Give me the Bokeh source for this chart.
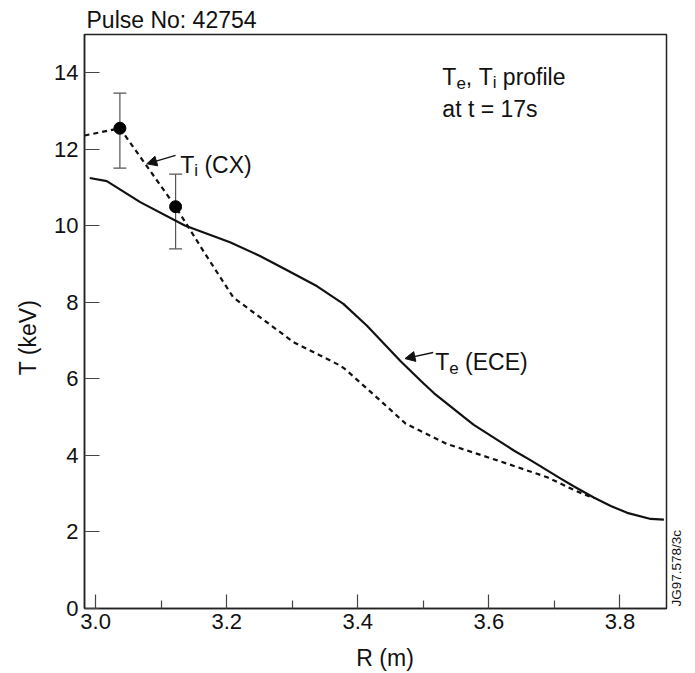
import math
from bokeh.plotting import figure
from bokeh.models import (Range1d, FixedTicker, Label, Arrow, NormalHead, Whisker,
                          TeeHead, ColumnDataSource, CustomJSTickFormatter, LinearAxis)
from bokeh.embed import file_html
from bokeh.resources import INLINE

# ---------------- data ----------------
te_R = [2.991, 3.017, 3.068, 3.136, 3.205, 3.250, 3.290, 3.338, 3.378, 3.414,
        3.465, 3.496, 3.516, 3.562, 3.577, 3.638, 3.664, 3.709, 3.730, 3.760,
        3.786, 3.811, 3.847, 3.867]
te_T = [11.25, 11.17, 10.62, 10.01, 9.57, 9.22, 8.86, 8.42, 7.96, 7.39,
        6.47, 5.95, 5.63, 5.00, 4.80, 4.13, 3.87, 3.40, 3.19, 2.90,
        2.68, 2.50, 2.34, 2.32]

ti_R = [2.983, 3.037, 3.122, 3.167, 3.210, 3.302, 3.373, 3.383, 3.434, 3.473,
        3.536, 3.613, 3.689, 3.732, 3.760]
ti_T = [12.36, 12.55, 10.50, 9.27, 8.13, 6.96, 6.35, 6.22, 5.44, 4.83,
        4.30, 3.87, 3.43, 3.08, 2.88]

cx_R = [3.037, 3.122]
cx_T = [12.55, 10.50]
cx_upper = [13.47, 11.35]
cx_lower = [11.51, 9.40]

x_ticks = [3.0, 3.2, 3.4, 3.6, 3.8]
x_minor = [3.1, 3.3, 3.5, 3.7]
y_ticks = [0, 2, 4, 6, 8, 10, 12, 14]

title_text = "Pulse No: 42754"
x_label = "R (m)"
y_label = "T (keV)"
code_text = "JG97.578/3c"
code_pos = 0.05   # vertical position (keV) where the figure code starts

# ---------------- figure ----------------
FONT = "Liberation Sans"
INK = "#111111"
NB = "\u00a0"

p = figure(width=695, height=673, output_backend="svg", toolbar_location=None,
           x_range=Range1d(2.983, 3.871), y_range=Range1d(0, 15),
           min_border_left=84, min_border_right=29, min_border_top=34,
           min_border_bottom=65)
p.background_fill_color = "white"
p.border_fill_color = "white"
p.outline_line_color = "#222222"
p.outline_line_width = 1.5
p.xgrid.visible = False
p.ygrid.visible = False

p.title.text = title_text
p.title.text_font = FONT
p.title.text_font_size = "23px"
p.title.text_font_style = "normal"
p.title.text_color = INK
p.title.align = "left"
p.title.offset = 2
p.title.standoff = 3

# axes
p.xaxis.ticker = FixedTicker(ticks=x_ticks, minor_ticks=x_minor)
p.yaxis.ticker = FixedTicker(ticks=y_ticks)
p.xaxis.formatter = CustomJSTickFormatter(code="return tick.toFixed(1);")
p.yaxis.formatter = CustomJSTickFormatter(code="return tick.toFixed(0);")
for ax in (p.xaxis[0], p.yaxis[0]):
    ax.axis_line_color = "#222222"
    ax.axis_line_width = 1.5
    ax.major_tick_line_color = "#444444"
    ax.minor_tick_line_color = "#444444"
    ax.major_tick_line_width = 1.2
    ax.minor_tick_line_width = 1.2
    ax.major_tick_out = 0
    ax.minor_tick_out = 0
    ax.major_label_text_font = FONT
    ax.major_label_text_font_size = "22px"
    ax.major_label_text_color = INK
    ax.axis_label_text_font = FONT
    ax.axis_label_text_font_size = "23px"
    ax.axis_label_text_font_style = "normal"
    ax.axis_label_text_color = INK
p.xaxis.major_tick_in = 14
p.xaxis.minor_tick_in = 8
p.yaxis.major_tick_in = 15
p.yaxis.minor_tick_in = 0
p.xaxis.major_label_standoff = 5
p.yaxis.major_label_standoff = 6
p.xaxis.axis_label = NB * 3 + x_label
p.yaxis.axis_label = y_label + NB * 5
p.xaxis.axis_label_standoff = 13
p.yaxis.axis_label_standoff = 10

# figure code on the right edge (an axis with a single labelled tick)
code_axis = LinearAxis(ticker=FixedTicker(ticks=[code_pos]),
                       major_label_overrides={code_pos: code_text},
                       major_label_orientation=math.pi / 2,
                       major_label_text_font=FONT, major_label_text_font_size="13.5px",
                       major_label_text_color=INK, major_label_standoff=4,
                       axis_line_color=None, major_tick_line_color=None,
                       minor_tick_line_color=None)
p.add_layout(code_axis, "right")

# curves
p.line(te_R, te_T, line_color=INK, line_width=2.2)
p.line(ti_R, ti_T, line_color=INK, line_width=2.2, line_dash="5 4")

src = ColumnDataSource(dict(x=cx_R, y=cx_T, upper=cx_upper, lower=cx_lower))
p.add_layout(Whisker(source=src, base="x", upper="upper", lower="lower",
                     dimension="height", line_color="#555555", line_width=1.2,
                     upper_head=TeeHead(size=13, line_color="#555555", line_width=1.2),
                     lower_head=TeeHead(size=13, line_color="#555555", line_width=1.2)))
p.scatter("x", "y", source=src, size=12, fill_color="black", line_color="black")

# ---------------- text helpers ----------------
W = {"T": 611, "e": 556, "i": 222, " ": 278, NB: 278, "(": 333, ")": 333, "E": 667,
     "C": 722, "X": 667, ",": 278, "p": 556, "r": 333, "o": 556, "f": 278,
     "l": 222, "a": 556, "t": 278, "=": 584, "1": 556, "7": 556, "s": 500}


def tw(s, size):
    return sum(W.get(c, 556) for c in s) * size / 1000.0


def rich(x, y, runs, main=23, sub=17, drop=6):
    dx = 0.0
    for txt, is_sub in runs:
        size = sub if is_sub else main
        txt = txt.replace(" ", NB)
        p.add_layout(Label(x=x, y=y, x_offset=dx, y_offset=(-drop if is_sub else 0),
                           text=txt, text_font=FONT, text_font_size=f"{size}px",
                           text_color=INK, text_align="left",
                           text_baseline="alphabetic"))
        dx += tw(txt, size)


# profile annotation
rich(3.529, 13.90, [("T", False), ("e", True), (", T", False), ("i", True),
                    (" profile", False)])
rich(3.529, 13.05, [("at t = 17s", False)])

# curve labels
rich(3.129, 11.60, [("T", False), ("i", True), (" (CX)", False)])
rich(3.518, 6.44, [("T", False), ("e", True), (" (ECE)", False)])

head = dict(size=10, fill_color=INK, line_color=INK, line_width=1)
p.add_layout(Arrow(x_start=3.122, y_start=11.84, x_end=3.078, y_end=11.62,
                   line_color=INK, line_width=1.3, end=NormalHead(**head)))
p.add_layout(Arrow(x_start=3.515, y_start=6.69, x_end=3.472, y_end=6.53,
                   line_color=INK, line_width=1.3, end=NormalHead(**head)))

open("out.html", "w").write(file_html(p, INLINE))
